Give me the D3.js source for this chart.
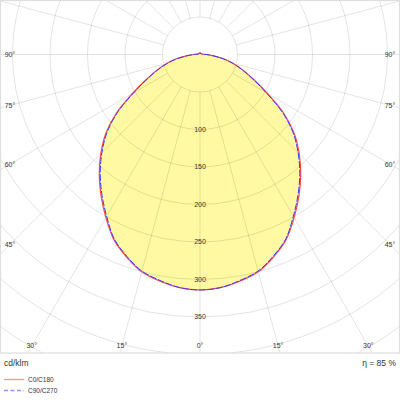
<!DOCTYPE html>
<html>
<head>
<meta charset="utf-8">
<script src="https://cdn.jsdelivr.net/npm/d3@7"></script>
<style>
  html, body { margin: 0; padding: 0; background: #fff; }
  svg { display: block; font-family: "Liberation Sans", Arial, sans-serif; }
</style>
</head>
<body>
<div id="app"></div>
<script>
// gamma angles (deg) and intensity in cd/klm
const gamma = [0, 5, 10, 15, 20, 25, 30, 35, 40, 45, 50, 55, 60, 65, 70, 75, 80, 85, 90,
  95, 100, 105, 110, 115, 120, 125, 130, 135, 140, 145, 150, 155, 160, 165, 170, 175, 180];
const c0c180 = [314, 312, 307, 300, 287, 272, 251, 230, 209, 187, 164, 136, 104, 79, 61, 46, 31, 17, 8,
  4, 3, 2.5, 2, 2, 2, 2, 2, 2, 2, 2, 2, 2, 2, 1.8, 1.8, 1.6, 1.6];
const c90c270 = [314, 312, 306, 299, 286, 271, 249, 228, 207, 185, 162, 134, 102, 78, 60, 45, 30, 16, 8,
  4, 3, 2.5, 2, 2, 2, 2, 2, 2, 2, 2, 2, 2, 2, 1.8, 1.8, 1.6, 1.6];

const ringValues = [50, 100, 150, 200, 250, 300, 350, 400, 450, 500];
const ringLabels = [100, 150, 200, 250, 300, 350];
const angleLabels = [0, 15, 30, 45, 60, 75, 90];
const spokes = [0, 15, 30, 45, 60, 75, 90, 105, 120, 135, 150, 165, 180,
  195, 210, 225, 240, 255, 270, 285, 300, 315, 330, 345];
const legendNames = ["C0/C180", "C90/C270"];
const unitText = "cd/klm";
const efficiency = 85;

const width = 400, height = 400;
const cx = 200, cy = 54.5, plotBottom = 353;
const colors = ["#ff4a4a", "#3a3aff"];
const legendColors = ["#ff9494", "#9494ff"];

const r = d3.scaleLinear().domain([0, 500]).range([0, 375]);
const rad = d => d * Math.PI / 180;

const svg = d3.select("#app").append("svg")
  .attr("width", width)
  .attr("height", height);

svg.append("clipPath").attr("id", "plotclip")
  .append("rect")
  .attr("x", 0).attr("y", 0)
  .attr("width", width).attr("height", plotBottom);

const plot = svg.append("g").attr("clip-path", "url(#plotclip)")
  .append("g").attr("transform", `translate(${cx},${cy})`);

// both halves of a plane: C180 on the left, C0 on the right
function planePoints(vals) {
  const pts = [];
  for (let i = gamma.length - 1; i >= 0; i--) pts.push([Math.PI + rad(gamma[i]), vals[i]]);
  for (let i = 1; i < gamma.length - 1; i++) pts.push([Math.PI - rad(gamma[i]), vals[i]]);
  return pts;
}

const line = d3.lineRadial()
  .angle(d => d[0])
  .radius(d => r(d[1]))
  .curve(d3.curveCatmullRomClosed.alpha(0.5));

plot.append("path")
  .attr("d", line(planePoints(c0c180)))
  .attr("fill", "#fff9a3")
  .attr("stroke", "none");

// grid
plot.selectAll(".ring")
  .data(ringValues)
  .enter()
  .append("circle")
  .attr("class", "ring")
  .attr("r", d => r(d))
  .attr("fill", "none")
  .attr("stroke", "rgba(0,0,0,0.11)")
  .attr("stroke-width", 1);

plot.selectAll(".spoke")
  .data(spokes)
  .enter()
  .append("line")
  .attr("class", "spoke")
  .attr("x1", d => r(50) * Math.sin(rad(d)))
  .attr("y1", d => r(50) * Math.cos(rad(d)))
  .attr("x2", d => r(500) * Math.sin(rad(d)))
  .attr("y2", d => r(500) * Math.cos(rad(d)))
  .attr("stroke", "rgba(0,0,0,0.11)")
  .attr("stroke-width", 1);

// curves
plot.append("path")
  .attr("d", line(planePoints(c0c180)))
  .attr("fill", "none")
  .attr("stroke", colors[0])
  .attr("stroke-width", 1.2);

plot.append("path")
  .attr("d", line(planePoints(c90c270)))
  .attr("fill", "none")
  .attr("stroke", colors[1])
  .attr("stroke-width", 1)
  .attr("stroke-dasharray", "7,1.5");

// ring value labels
plot.selectAll(".rlabel")
  .data(ringLabels)
  .enter()
  .append("text")
  .attr("class", "rlabel")
  .attr("x", 0)
  .attr("y", d => r(d))
  .attr("dy", "0.35em")
  .attr("text-anchor", "middle")
  .attr("font-size", 7)
  .attr("fill", "#333")
  .text(d => d);

// border of the plot area
svg.append("rect")
  .attr("x", 0.5).attr("y", 0.5)
  .attr("width", width - 1).attr("height", plotBottom - 0.5)
  .attr("fill", "none")
  .attr("stroke", "#dedede")
  .attr("stroke-width", 1.2);

// angle labels where each spoke meets an inset frame
const inset = { left: 10, right: 390, bottom: 346 };
const angleItems = [];
angleLabels.forEach(a => {
  (a === 0 ? [1] : [-1, 1]).forEach(side => {
    const s = Math.sin(rad(a)), c = Math.cos(rad(a));
    const tx = s > 1e-6 ? (side < 0 ? cx - inset.left : inset.right - cx) / s : Infinity;
    const ty = c > 1e-6 ? (inset.bottom - cy) / c : Infinity;
    const t = Math.min(tx, ty);
    angleItems.push({ a, x: cx + side * t * s, y: cy + t * c });
  });
});

svg.selectAll(".alabel")
  .data(angleItems)
  .enter()
  .append("text")
  .attr("class", "alabel")
  .attr("x", d => d.x)
  .attr("y", d => d.y)
  .attr("dy", "0.35em")
  .attr("text-anchor", "middle")
  .attr("font-size", 7)
  .attr("fill", "#333")
  .text(d => d.a + "°");

// unit and efficiency
svg.append("text")
  .attr("x", 4).attr("y", 366)
  .attr("font-size", 8.5)
  .attr("fill", "#333")
  .text(unitText);

svg.append("text")
  .attr("x", 396).attr("y", 366)
  .attr("text-anchor", "end")
  .attr("font-size", 8.5)
  .attr("fill", "#333")
  .text(`η = ${efficiency} %`);

// legend
const legend = svg.selectAll(".legend")
  .data(legendNames)
  .enter()
  .append("g")
  .attr("class", "legend")
  .attr("transform", (d, i) => `translate(4, ${379.5 + i * 11})`);

legend.append("line")
  .attr("x1", 0).attr("x2", 20)
  .attr("y1", 0).attr("y2", 0)
  .attr("stroke", (d, i) => legendColors[i])
  .attr("stroke-width", 1.3)
  .attr("stroke-dasharray", (d, i) => i === 1 ? "4,2.5" : null);

legend.append("text")
  .attr("x", 24)
  .attr("y", 0)
  .attr("dy", "0.35em")
  .attr("font-size", 6.5)
  .attr("fill", "#333")
  .text(d => d);
</script>
</body>
</html>
